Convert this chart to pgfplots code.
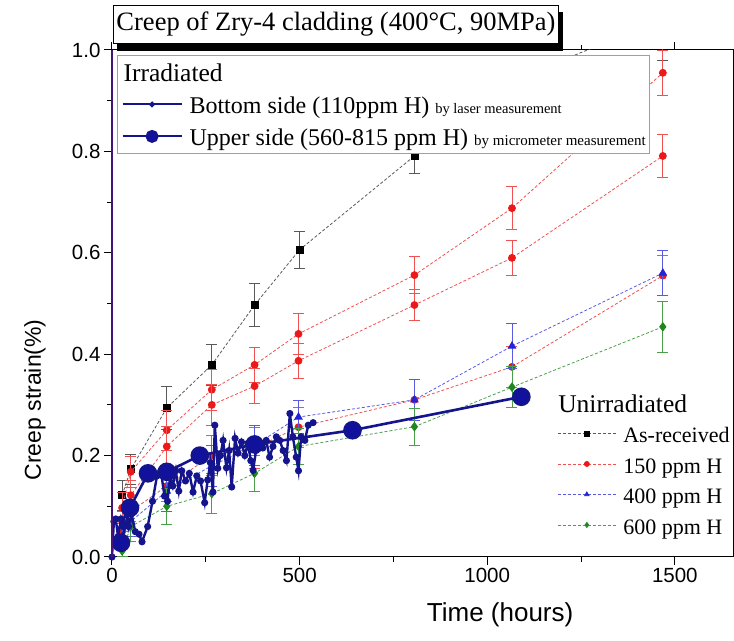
\documentclass[border=0pt]{standalone}
\usepackage{fontspec}
\setmainfont{Liberation Serif}
\setsansfont{Liberation Sans}
\usepackage{pgfplots}
\usepackage{pgfplotstable}
\pgfplotsset{compat=1.18}
\usetikzlibrary{shadows}

\definecolor{navyb}{RGB}{20,20,140}
\definecolor{redm}{RGB}{235,25,25}
\definecolor{bluem}{RGB}{35,35,215}
\definecolor{greenm}{RGB}{30,135,30}
\definecolor{axpurple}{RGB}{70,20,120}
\newcommand{\lst}{\rule[-4pt]{0pt}{24pt}}

\pgfplotstableread{
t v e
27 0.122 0.03
50 0.173 0.03
146 0.294 0.043
266 0.379 0.04
380 0.497 0.043
500 0.606 0.036
806 0.791 0.035
1066 0.94 0.04
1468 1.06 0.08
}\asrec
\pgfplotstableread{
t v e
27 0.097 0.03
50 0.168 0.03
146 0.25 0.04
266 0.33 0.04
380 0.379 0.035
497 0.44 0.04
806 0.556 0.036
1066 0.688 0.042
1468 0.955 0.045
}\redA
\pgfplotstableread{
t v e
27 0.07 0.02
50 0.122 0.03
146 0.218 0.04
266 0.30 0.04
380 0.337 0.035
497 0.387 0.035
806 0.497 0.03
1066 0.590 0.034
1468 0.791 0.042
}\redB
\pgfplotstableread{
t v e
27 0.05 0.02
50 0.09 0.02
146 0.14 0.03
266 0.20 0.04
380 0.215 0.04
497 0.256 0.04
806 0.31 0.04
1066 0.375 0.04
1468 0.555 0.04
}\redC
\pgfplotstableread{
t v e
27 0.04 0.02
50 0.07 0.03
146 0.13 0.04
266 0.18 0.04
380 0.22 0.04
497 0.276 0.032
806 0.31 0.04
1066 0.416 0.045
1468 0.56 0.045
}\bluet
\pgfplotstableread{
t v e
27 0.012 0.01
50 0.06 0.03
146 0.10 0.035
266 0.125 0.04
380 0.165 0.035
497 0.218 0.035
806 0.257 0.036
1066 0.335 0.04
1468 0.454 0.05
}\greend
\pgfplotstableread{
t v
0 0
5 0.07
10 0.075
16 0.04
24 0.075
30 0.06
38 0.10
44 0.06
52 0.085
62 0.05
72 0.045
80 0.03
95 0.06
108 0.11
120 0.16
130 0.17
140 0.12
148 0.11
155 0.16
162 0.14
170 0.17
178 0.13
186 0.17
196 0.15
206 0.165
216 0.128
226 0.16
236 0.15
247 0.107
255 0.152
262 0.186
269 0.128
274 0.26
282 0.175
289 0.20
296 0.23
305 0.176
312 0.21
319 0.138
328 0.234
336 0.205
345 0.227
354 0.20
362 0.224
370 0.19
376 0.171
384 0.21
393 0.225
402 0.215
411 0.23
420 0.197
429 0.218
438 0.237
447 0.23
456 0.21
465 0.19
474 0.283
482 0.237
491 0.197
497 0.17
504 0.237
514 0.23
523 0.26
536 0.265
}\bottomside
\pgfplotstableread{
t v
24 0.028
48 0.097
96 0.165
146 0.168
234 0.20
380 0.222
641 0.25
1091 0.316
}\upperside

\pgfplotsset{
  base/.style={scale only axis, width=621pt, height=507pt,
    xmin=0, xmax=1655, ymin=0, ymax=1},
  uni/.style={line width=0.8pt, dash pattern=on 3pt off 2pt, color=#1,
    error bars/y dir=both, error bars/y explicit,
    error bars/error mark=-,
    error bars/error bar style={solid, line width=0.8pt, color=#1},
    error bars/error mark options={rotate=90, solid, line width=0.8pt, mark size=5.5pt, color=#1}},
}

\begin{document}
\begin{tikzpicture}
\begin{axis}[base, name=ax,
  clip marker paths=true,
  axis line style={line width=1pt},
  xtick={0,500,1000,1500}, minor x tick num=1,
  ytick={0,0.2,0.4,0.6,0.8,1}, minor y tick num=1,
  tick align=outside, major tick length=8pt, minor tick length=5pt,
  tick style={black, line width=1pt},
  /pgf/number format/assume math mode=true,
  /pgf/number format/1000 sep={},
  yticklabel style={/pgf/number format/fixed, /pgf/number format/fixed zerofill, /pgf/number format/precision=1},
  tick label style={font=\sffamily\fontsize{20.5}{24}\selectfont},
  xlabel={Time (hours)}, ylabel={Creep strain(\%)},
  xlabel style={font=\sffamily\fontsize{26}{30}\selectfont, at={(axis description cs:0.625,-0.114)}, anchor=center},
  ylabel style={font=\sffamily\fontsize{23}{28}\selectfont, at={(axis description cs:-0.124,0.31)}, anchor=center},
  legend cell align=left,
  legend image code/.code={\draw[mark repeat=2, mark phase=2, #1] plot coordinates {(0pt,0pt) (29pt,0pt) (58pt,0pt)};},
  legend image post style={mark size=2.5pt},
  legend style={at={(0.717,0.3254)}, anchor=north west, draw=none, fill=none,
    inner sep=0pt, column sep=7pt, row sep=9pt,
    nodes={inner sep=0pt, font=\fontsize{22}{26}\selectfont}},
]
\addlegendimage{empty legend}
\addlegendentry{\hspace*{-65pt}\fontsize{25.5}{30}\selectfont\lst Unirradiated}
\addplot[uni=black!65, mark=square*, mark size=3.5pt, mark options={solid, fill=black, draw=black}]
  table[x=t, y=v, y error=e] {\asrec};
\addlegendentry{\lst As-received}
\addplot[uni=redm!75!white, mark=*, mark size=3.5pt, mark options={solid, fill=redm, draw=redm}]
  table[x=t, y=v, y error=e] {\redA};
\addlegendentry{\lst 150 ppm H}
\addplot[uni=redm!75!white, mark=*, mark size=3.5pt, mark options={solid, fill=redm, draw=redm}, forget plot]
  table[x=t, y=v, y error=e] {\redB};
\addplot[uni=redm!75!white, mark=*, mark size=3.5pt, mark options={solid, fill=redm, draw=redm}, forget plot]
  table[x=t, y=v, y error=e] {\redC};
\addplot[uni=bluem!75!white, mark=triangle*, mark size=4.2pt, mark options={solid, fill=bluem, draw=bluem}]
  table[x=t, y=v, y error=e] {\bluet};
\addlegendentry{\lst 400 ppm H}
\addplot[uni=greenm!80!white, mark=diamond*, mark size=4.2pt, mark options={solid, fill=greenm, draw=greenm}]
  table[x=t, y=v, y error=e] {\greend};
\addlegendentry{\lst 600 ppm H}
\end{axis}

\begin{axis}[base, hide axis,
  legend cell align=left,
  legend image code/.code={\draw[mark repeat=2, mark phase=2, #1] plot coordinates {(0pt,0pt) (29.5pt,0pt) (59pt,0pt)};},
  legend style={at={(0.008,0.99)}, anchor=north west, draw=gray!75, line width=1.2pt, fill=white,
    inner xsep=4pt, inner ysep=6pt, column sep=7pt, row sep=10.5pt,
    nodes={inner sep=0pt, font=\fontsize{24}{28}\selectfont}},
]
\addlegendimage{empty legend}
\addlegendentry{\hspace*{-66pt}\fontsize{25.5}{30}\selectfont\lst Irradiated}
\addplot[navyb, line width=2.4pt, mark=*, mark size=2.3pt, legend image post style={line width=2pt, mark size=1.8pt}]
  table[x=t, y=v] {\bottomside};
\addlegendentry{\lst Bottom side (110ppm H) {\fontsize{14.5}{17}\selectfont by laser measurement}}
\addplot[navyb, line width=2.6pt, mark=*, mark size=8pt, mark options={fill=navyb!85!blue}, legend image post style={line width=2pt, mark size=5.5pt}]
  table[x=t, y=v] {\upperside};
\addlegendentry{\lst Upper side (560-815 ppm H) {\fontsize{15}{17}\selectfont by micrometer measurement}}
\end{axis}

\draw[axpurple, line width=1.3pt] (ax.south west) -- (ax.north west);
\node[anchor=north west, draw=black, line width=1pt, fill=white, inner xsep=3pt, inner ysep=0pt,
  minimum height=38pt, font=\fontsize{26.5}{30}\selectfont,
  copy shadow={shadow xshift=4pt, shadow yshift=-7pt, fill=black, draw=black}]
  at ([shift={(1pt,45pt)}]ax.north west) {Creep of Zry-4 cladding (400°C, 90MPa)};

\pgfresetboundingbox
\path[use as bounding box] ([shift={(-112pt,-84pt)}]ax.south west) rectangle ([shift={(1pt,50pt)}]ax.north east);
\end{tikzpicture}
\end{document}
